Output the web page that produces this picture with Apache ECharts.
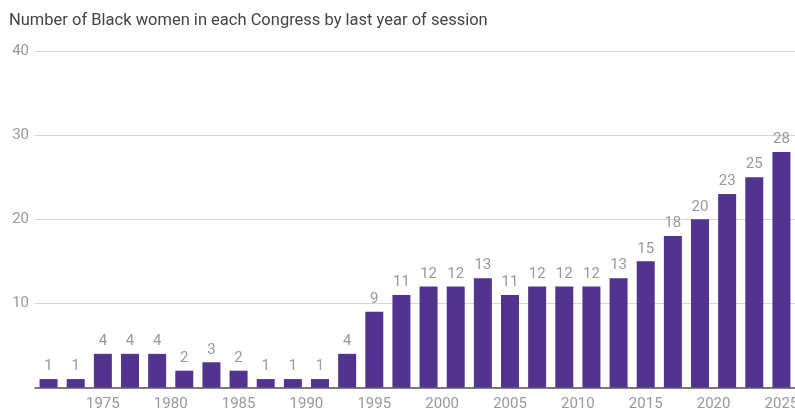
<!DOCTYPE html>
<html>
<head>
<meta charset="utf-8">
<script src="https://cdn.jsdelivr.net/npm/echarts@6/dist/echarts.min.js"></script>
<style>
html,body{margin:0;padding:0;background:#fff;}
#chart{width:795px;height:415px;}
</style>
</head>
<body>
<div id="chart"></div>
<script>
const titleText = 'Number of Black women in each Congress by last year of session';
const years = [1971,1973,1975,1977,1979,1981,1983,1985,1987,1989,1991,1993,1995,1997,1999,2001,2003,2005,2007,2009,2011,2013,2015,2017,2019,2021,2023,2025];
const counts = [1,1,4,4,4,2,3,2,1,1,1,4,9,11,12,12,13,11,12,12,12,13,15,18,20,23,25,28];
const yTicks = [0,10,20,30,40];

const chart = echarts.init(document.getElementById('chart'), null, {renderer:'canvas'});
const fontFamily = 'Roboto, "Noto Sans", sans-serif';
chart.setOption({
  animation:false,
  title:{
    text:titleText, left:4, top:7,
    textStyle:{fontFamily, fontSize:16.5, fontWeight:'normal', color:'#444'}
  },
  grid:{left:35, right:0, top:51, bottom:27.5, containLabel:false, outerBoundsMode:'none'},
  xAxis:{
    type:'value', min:1970, max:2026, interval:5,
    splitLine:{show:false},
    axisTick:{show:false},
    axisLine:{show:true, lineStyle:{color:'#555', width:1.5}},
    axisLabel:{
      fontFamily, fontSize:15, color:'#999', margin:9,
      formatter:v => (v % 5 === 0 && v > 1970) ? String(v) : ''
    }
  },
  yAxis:{
    type:'value', min:yTicks[0], max:yTicks[yTicks.length-1], interval:10,
    axisLine:{show:false}, axisTick:{show:false},
    splitLine:{lineStyle:{color:'#d6d6d6', width:1}},
    axisLabel:{fontFamily, fontSize:15, color:'#999', margin:6,
      formatter:v => v === 0 ? '' : String(v)}
  },
  series:[{
    type:'bar',
    data:years.map((y,i)=>[y,counts[i]]),
    barWidth:18,
    itemStyle:{color:'#52338f'},
    label:{show:true, position:'top', distance:5, fontFamily, fontSize:15, color:'#999'}
  }]
});
</script>
</body>
</html>
